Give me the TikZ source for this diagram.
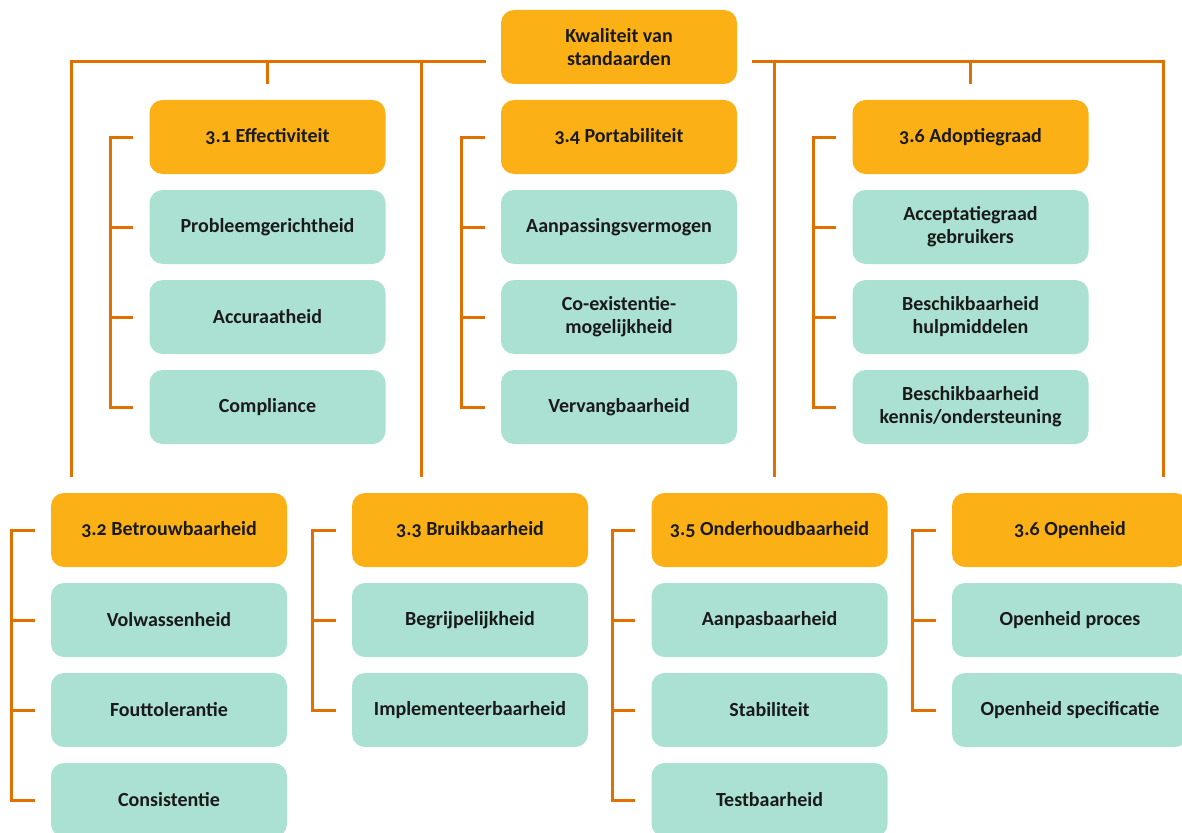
\documentclass[tikz,border=0pt]{standalone}
\usepackage{fontspec}
\setmainfont{Carlito}[Numbers=OldStyle]
\usetikzlibrary{calc}
\definecolor{lineor}{HTML}{E17000}
\definecolor{boxor}{HTML}{FBB116}
\definecolor{boxmint}{HTML}{ABE1D2}
\definecolor{txt}{HTML}{1A1A1A}
\begin{document}
\begin{tikzpicture}[x=1pt,y=-1pt,
  box/.style={rounded corners=13pt, minimum width=236pt, minimum height=74pt, align=center, inner sep=0pt, text=txt, font=\bfseries\fontsize{20}{23}\selectfont},
  head/.style={box, fill=boxor},
  item/.style={box, fill=boxmint},
  conn/.style={draw=lineor, line width=3pt}]
\clip (0,0) rectangle (1182,832);
\node[head] (top) at (619,47) {Kwaliteit van\\standaarden};
% group A
\node[head] (a0) at (267.5,137) {3.1 Effectiviteit};
\node[item] (a1) at (267.5,227) {Probleemgerichtheid};
\node[item] (a2) at (267.5,317) {Accuraatheid};
\node[item] (a3) at (267.5,407) {Compliance};
% group B
\node[head] (b0) at (619,137) {3.4 Portabiliteit};
\node[item] (b1) at (619,227) {Aanpassingsvermogen};
\node[item] (b2) at (619,317) {Co-existentie-\\mogelijkheid};
\node[item] (b3) at (619,407) {Vervangbaarheid};
% group C
\node[head] (c0) at (970.5,137) {3.6 Adoptiegraad};
\node[item] (c1) at (970.5,227) {Acceptatiegraad\\gebruikers};
\node[item] (c2) at (970.5,317) {Beschikbaarheid\\hulpmiddelen};
\node[item] (c3) at (970.5,407) {Beschikbaarheid\\kennis/ondersteuning};
% group D
\node[head] (d0) at (169,530) {3.2 Betrouwbaarheid};
\node[item] (d1) at (169,620) {Volwassenheid};
\node[item] (d2) at (169,710) {Fouttolerantie};
\node[item] (d3) at (169,800) {Consistentie};
% group E
\node[head] (e0) at (470,530) {3.3 Bruikbaarheid};
\node[item] (e1) at (470,620) {Begrijpelijkheid};
\node[item] (e2) at (470,710) {Implementeerbaarheid};
% group F
\node[head] (f0) at (769.5,530) {3.5 Onderhoudbaarheid};
\node[item] (f1) at (769.5,620) {Aanpasbaarheid};
\node[item] (f2) at (769.5,710) {Stabiliteit};
\node[item] (f3) at (769.5,800) {Testbaarheid};
% group G
\node[head] (g0) at (1070,530) {3.6 Openheid};
\node[item] (g1) at (1070,620) {Openheid proces};
\node[item] (g2) at (1070,710) {Openheid specificatie};
% top connectors
\coordinate (tl) at ($(top.west)+(-15,15)$);
\coordinate (tr) at ($(top.east)+(15,15)$);
\coordinate (dD) at ($(d0.north west)+(21,-16)$);
\coordinate (dE) at ($(e0.north west)+(70,-16)$);
\coordinate (dF) at ($(f0.north)+(4.5,-16)$);
\coordinate (dG) at ($(g0.north west)+(212,-16)$);
\coordinate (dA) at ($(a0.north)+(0,-16)$);
\coordinate (dC) at ($(c0.north)+(0,-16)$);
\draw[conn] (tl) -| (dD);
\draw[conn] (tl) -| (dE);
\draw[conn] (dA) -- (dA |- tl);
\draw[conn] (tr) -| (dG);
\draw[conn] (tr) -| (dF);
\draw[conn] (dC) -- (dC |- tr);
% brackets
\foreach \g/\n in {a/3,b/3,c/3,d/3,e/2,f/3,g/2}{
  \draw[conn] ([xshift=-16pt]\g0.west) -- ++(-23,0) |- ([xshift=-16pt]\g\n.west);
  \foreach \i in {1,...,\n}{\draw[conn] ([xshift=-16pt]\g\i.west) -- ++(-23,0);}
}
\end{tikzpicture}
\end{document}
